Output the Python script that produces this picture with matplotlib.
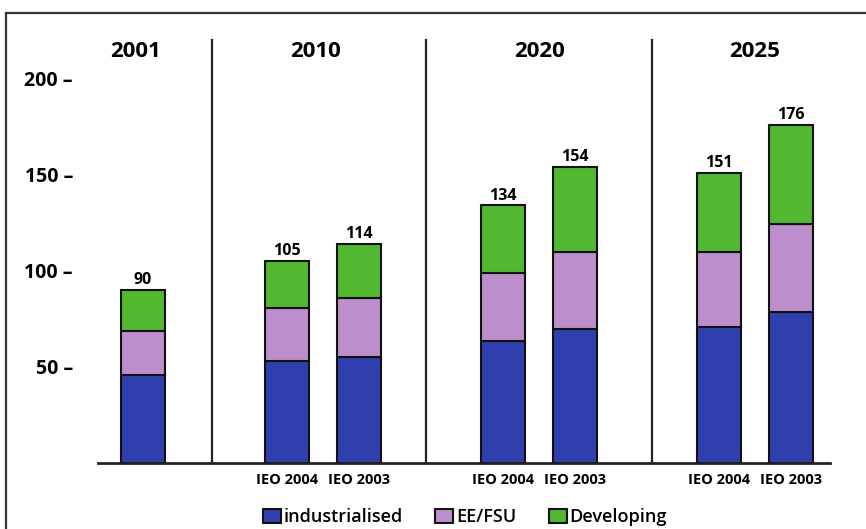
import matplotlib.pyplot as plt
from matplotlib.patches import Rectangle

plt.rcParams['font.family'] = ['Open Sans', 'DejaVu Sans']

# stacked shares per scenario bar
bar_labels = ["", "IEO 2004", "IEO 2003", "IEO 2004", "IEO 2003", "IEO 2004", "IEO 2003"]
industrialised = [46, 53, 55, 63.5, 69.5, 71, 78.5]
ee_fsu = [22.5, 27.5, 31, 35.5, 40.5, 39, 46]
developing = [21.5, 24.5, 28, 35, 44, 41, 51.5]
totals = [90, 105, 114, 134, 154, 151, 176]
years = ["2001", "2010", "2020", "2025"]

colors = ["#2f3fae", "#bc8fcc", "#52b830"]
xpos = [0, 2, 3, 5, 6, 8, 9]
year_x = [-0.1, 2.4, 5.5, 8.5]
sep_x = [0.96, 3.93, 7.07]

fig = plt.figure(figsize=(8.66, 5.29), dpi=100)
# outer frame, running off the right and bottom edges
fig.patches.append(Rectangle((6 / 866, -0.05), 1.0, 1.05 - 13 / 529,
                             transform=fig.transFigure, fill=False,
                             edgecolor="#333333", linewidth=1.6))

ax = fig.add_axes([98 / 866, 1 - 463 / 529, 732 / 866, 442 / 529])
w = 0.61
b1 = [a + b for a, b in zip(industrialised, ee_fsu)]
ax.bar(xpos, industrialised, w, color=colors[0], edgecolor="#111111", linewidth=1.5,
       label="industrialised")
ax.bar(xpos, ee_fsu, w, bottom=industrialised, color=colors[1], edgecolor="#111111",
       linewidth=1.5, label="EE/FSU")
ax.bar(xpos, developing, w, bottom=b1, color=colors[2], edgecolor="#111111",
       linewidth=1.5, label="Developing")

for x, t in zip(xpos, totals):
    ax.text(x, t + 1, str(t), ha="center", va="bottom", fontsize=11.5, fontweight="bold")

for x, y in zip(year_x, years):
    ax.text(x, 214, y, ha="center", va="center", fontsize=16, fontweight="bold")

for x in sep_x:
    ax.plot([x, x], [0, 220], color="#222222", linewidth=1.6, clip_on=False)

ax.set_xlim(-0.625, 9.54)
ax.set_ylim(0, 230)
ax.set_yticks([50, 100, 150, 200])
ax.set_yticklabels(["50 –", "100 –", "150 –", "200 –"], fontsize=14, fontweight="bold")
ax.set_xticks(xpos)
ax.set_xticklabels(bar_labels, fontsize=10.5, fontweight="bold")
ax.tick_params(axis="y", length=0, pad=18)
ax.tick_params(axis="x", length=0, pad=7)
for s in ["top", "right", "left"]:
    ax.spines[s].set_visible(False)
ax.spines["bottom"].set_linewidth(2)
ax.spines["bottom"].set_color("#222222")

fig.legend(loc="center", bbox_to_anchor=(465 / 866, 1 - 517 / 529), ncol=3, frameon=False,
           handlelength=1.0, handleheight=0.8, handletextpad=0.15,
           columnspacing=1.8, prop={"size": 13, "weight": "semibold"})

fig.savefig("out.png", dpi=100)
